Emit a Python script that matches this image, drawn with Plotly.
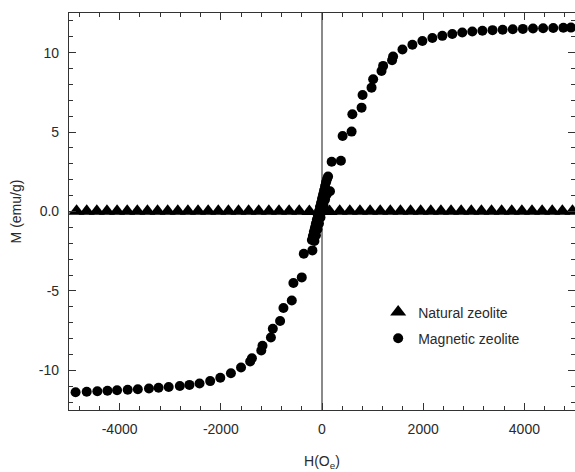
import plotly.graph_objects as go

# Natural zeolite (triangles)
H_nat = [-4850, -4650, -4450, -4250, -4050, -3850, -3650, -3450, -3250, -3050,
         -2850, -2650, -2450, -2250, -2050, -1850, -1650, -1450, -1250, -1050,
         -850, -650, -450, -250, -50, 150, 350, 550, 750, 950,
         1150, 1350, 1550, 1750, 1950, 2150, 2350, 2550, 2750, 2950,
         3150, 3350, 3550, 3750, 3950, 4150, 4350, 4550, 4750, 4950]
M_nat = [0.02, 0.02, 0.02, 0.02, 0.02, 0.02, 0.02, 0.02, 0.02, 0.02,
         0.02, 0.02, 0.02, 0.02, 0.02, 0.02, 0.02, 0.02, 0.02, 0.02,
         0.01, 0.01, 0.01, 0.0, 0.0, 0.0, 0.01, 0.01, 0.01, 0.02,
         0.02, 0.02, 0.02, 0.02, 0.02, 0.02, 0.02, 0.02, 0.02, 0.02,
         0.02, 0.02, 0.02, 0.02, 0.02, 0.02, 0.02, 0.02, 0.02, 0.02]

# Magnetic zeolite (circles)
H_mag = [-4870, -4650, -4440, -4240, -4050, -3840, -3640, -3420, -3230, -3030,
         -2810, -2620, -2420, -2210, -2010, -1800, -1600, -1420, -1385, -1200,
         -1176, -1010, -972, -828, -762, -597, -565, -400, -360, -190,
         -200, -180, -160, -140, -120, -100, -80, -60, -40, -20, 0, 20, 40, 60, 80, 100, 120,
         -150, -120, -90, -60, -30, 0, 30, 60, 90, 158,
         191, 374, 408, 585, 600, 782, 802, 979, 1011, 1176,
         1208, 1385, 1405, 1590, 1787, 1984, 2181, 2378, 2575, 2772,
         2970, 3170, 3370, 3570, 3770, 3970, 4170, 4370, 4570, 4770, 4920]
M_mag = [-11.38, -11.35, -11.32, -11.29, -11.26, -11.22, -11.19, -11.15, -11.10, -11.05,
         -10.99, -10.92, -10.83, -10.68, -10.47, -10.19, -9.82, -9.45, -9.24, -8.75,
         -8.45, -7.93, -7.38, -6.90, -6.08, -5.60, -4.50, -4.15, -2.66, -2.45,
         -1.80, -1.55, -1.28, -1.02, -0.76, -0.50, -0.24, 0.02, 0.28, 0.54, 0.80, 1.06, 1.32, 1.58, 1.84, 2.05, 2.20,
         -1.85, -1.50, -1.12, -0.75, -0.38, 0.0, 0.38, 0.75, 1.05, 1.28,
         3.13, 3.20, 4.75, 5.03, 6.12, 6.54, 7.34, 7.80, 8.33, 8.85,
         9.17, 9.52, 9.76, 10.20, 10.50, 10.74, 10.93, 11.06, 11.18, 11.27,
         11.33, 11.38, 11.42, 11.45, 11.48, 11.50, 11.52, 11.54, 11.56, 11.57, 11.58]

y_tickvals = [-10, -5, 0, 5, 10]
y_ticktext = ["-10", "-5", "0.0", "5", "10"]
x_tickvals = [-4000, -2000, 0, 2000, 4000]
x_ticktext = ["-4000", "-2000", "0", "2000", "4000"]

FONT = "Liberation Sans, Arial, sans-serif"
TXT = "#2a2a2a"

fig = go.Figure()
fig.add_trace(go.Scatter(
    x=H_nat, y=M_nat, mode="markers", name="Natural zeolite",
    legendgroup="a",
    marker=dict(symbol="triangle-up", size=14, color="black", line=dict(width=0)),
))
fig.add_trace(go.Scatter(
    x=H_mag, y=M_mag, mode="markers", name="Magnetic zeolite",
    legendgroup="b",
    marker=dict(symbol="circle", size=10, color="black", line=dict(width=0)),
))

axis_common = dict(
    showgrid=False, showline=True, linecolor="#333", linewidth=1.2,
    mirror="allticks", ticks="inside", tickcolor="#333", tickwidth=1.2,
    ticklen=7, zeroline=True, zerolinecolor="#8a8a8a", zerolinewidth=1.5,
    tickfont=dict(family=FONT, size=14, color=TXT),
)

fig.update_xaxes(
    range=[-5000, 5000], tickvals=x_tickvals, ticktext=x_ticktext,
    minor=dict(dtick=400, tick0=0, ticks="inside", ticklen=4, tickcolor="#333", tickwidth=1.2),
    title=dict(text="H(O<sub>e</sub>)", font=dict(family=FONT, size=14, color=TXT), standoff=20),
    ticklabelstandoff=6,
    **axis_common,
)
fig.update_yaxes(
    range=[-12.5, 12.5], tickvals=y_tickvals, ticktext=y_ticktext,
    minor=dict(dtick=1, tick0=0, ticks="inside", ticklen=4, tickcolor="#333", tickwidth=1.2),
    title=dict(text="M (emu/g)", font=dict(family=FONT, size=14, color=TXT), standoff=13),
    ticklabelstandoff=6,
    **axis_common,
)

fig.update_layout(
    width=575, height=472,
    margin=dict(l=69, r=0, t=13, b=62),
    plot_bgcolor="white", paper_bgcolor="white",
    font=dict(family=FONT, size=14, color=TXT),
    legend=dict(
        x=0.611, y=0.213, xanchor="left", yanchor="middle",
        bgcolor="rgba(0,0,0,0)", borderwidth=0,
        traceorder="grouped", tracegroupgap=5,
        font=dict(family=FONT, size=14, color=TXT),
    ),
)

fig.write_html(
    "out.html",
    config={"displayModeBar": False},
    post_script="document.body.style.margin='0';document.body.style.padding='0';",
)
